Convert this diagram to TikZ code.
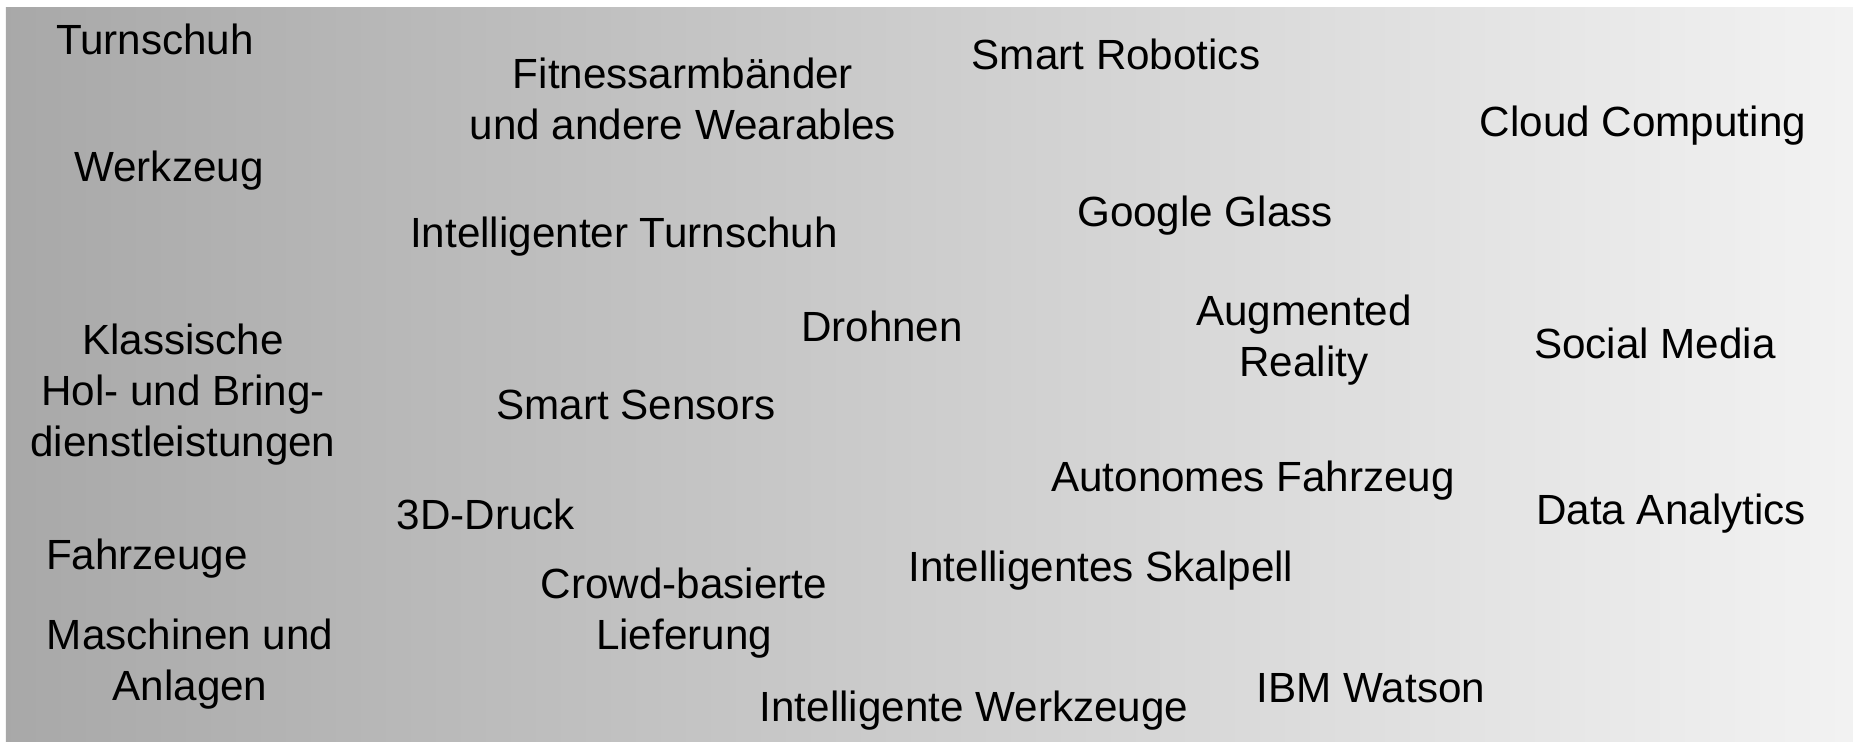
\documentclass[tikz,border=0pt]{standalone}
\usepackage{fontspec}
\setmainfont{Liberation Sans}
\usepackage{xcolor}
\usepackage{tikz}
\usetikzlibrary{calc}

\tikzset{
    lbl/.style={align=center,inner sep=0pt,font=\fontsize{12}{14.5}\selectfont},
}

\begin{document}
\begin{tikzpicture}[x=0.01cm,y=-0.01cm]
            \useasboundingbox (0,0) rectangle (1853,742);
            \coordinate (TL) at (6,7);
            \coordinate (BR) at (1853,742);
            \shade[left color=black!34,right color=black!5] (TL) rectangle (BR);
            % linke Spalte
            \node[lbl] (turnschuh) at (155,39) {Turnschuh};
            \node[lbl] (werkzeug) at (169,171) {Werkzeug};
            \node[lbl] (holbring) at (183,395) {Klassische\\Hol- und Bring-\\dienstleistungen};
            \node[lbl] (fahrzeuge) at (147,559) {Fahrzeuge};
            \node[lbl] (maschinen) at (190,664) {Maschinen und\\Anlagen};
            % Mitte
            \node[lbl] (fitness) at (683,99) {Fitnessarmb\"ander\\und andere Wearables};
            \node[lbl] (intturnschuh) at (624,237) {Intelligenter Turnschuh};
            \node[lbl] (drohnen) at (882,326) {Drohnen};
            \node[lbl] (sensors) at (636,405) {Smart Sensors};
            \node[lbl] (druck) at (486,514) {3D-Druck};
            \node[lbl] (crowd) at (684,613) {Crowd-basierte\\Lieferung};
            \node[lbl] (intwerkzeuge) at (974,711) {Intelligente Werkzeuge};
            \node[lbl] (robotics) at (1116,54) {Smart Robotics};
            \node[lbl] (glass) at (1205,216) {Google Glass};
            \node[lbl] (augmented) at (1304,340) {Augmented\\Reality};
            \node[lbl] (autonom) at (1253,481) {Autonomes Fahrzeug};
            \node[lbl] (skalpell) at (1101,571) {Intelligentes Skalpell};
            \node[lbl] (watson) at (1371,688) {IBM Watson};
            % rechte Spalte
            \node[lbl] (cloud) at (1643,126) {Cloud Computing};
            \node[lbl] (social) at (1655,343) {Social Media};
            \node[lbl] (analytics) at (1671,514) {Data Analytics};
        \end{tikzpicture}
\end{document}
